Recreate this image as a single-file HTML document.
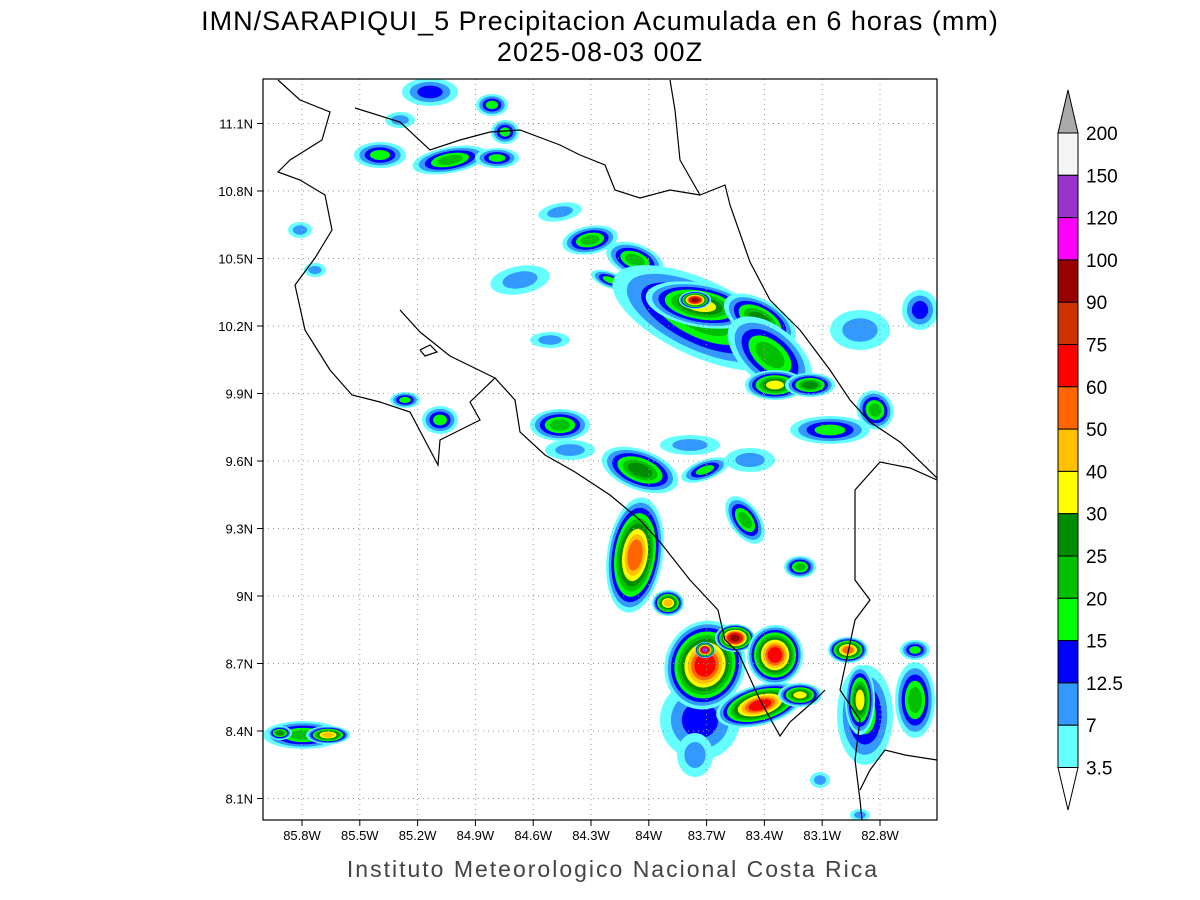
<!DOCTYPE html>
<html><head><meta charset="utf-8"><style>
html,body{margin:0;padding:0;background:#fff;}
svg{display:block;font-family:"Liberation Sans",sans-serif;}
</style></head><body>
<svg id="s" width="1200" height="900" xmlns="http://www.w3.org/2000/svg">
<text x="600" y="30" font-size="27" text-anchor="middle" letter-spacing="1">IMN/SARAPIQUI_5 Precipitacion Acumulada en 6 horas (mm)</text>
<text x="600" y="61" font-size="27" text-anchor="middle" letter-spacing="1">2025-08-03 00Z</text>
<defs><clipPath id="c"><rect x="263" y="79" width="674" height="741"/></clipPath></defs>
<g id="blobs" clip-path="url(#c)"></g>
<g id="grid" stroke="#999" stroke-width="1" stroke-dasharray="1,4"></g>
<g clip-path="url(#c)" fill="none" stroke="#000" stroke-width="1.2">
<polyline points="278,80 300,100 330,112 322,140 290,160 278,172 300,180 325,195 332,230 315,258 295,285 305,330 330,370 352,395 380,402 410,412 438,465 440,440 460,430 480,420 470,402 495,378 515,400 520,432 545,455 575,472 610,495 640,520 660,542 690,580 718,610 725,640 738,652 760,700 780,736 790,722 815,700 825,690"/>
<polyline points="400,310 420,332 450,356 495,378"/>
<polyline points="420,350 430,345 437,352 425,356 420,350"/>
<polyline points="355,108 400,122 430,150 460,140 490,132 520,130 560,145 580,155 605,165 615,190 640,198 670,190 700,195"/>
<polyline points="670,80 675,110 680,160 700,195 725,185 730,205 750,262 770,300 800,330 830,370 850,400 870,422 900,442 937,478"/>
<polyline points="937,480 910,468 880,462 855,490 855,580 870,600 855,620 840,690 860,720 855,760 860,800 862,820"/>
<polyline points="937,760 905,755 885,750 870,770 860,790"/>
</g>
<rect x="263" y="79" width="674" height="741" fill="none" stroke="#000" stroke-width="1.2"/>
<g id="ticks" font-size="13"></g>
<g id="cb"></g>
<text x="613" y="877" font-size="23" text-anchor="middle" fill="#444" letter-spacing="2">Instituto Meteorologico Nacional Costa Rica</text>
</svg>
<script>
var NS="http://www.w3.org/2000/svg";
function el(p,t,a,txt){var e=document.createElementNS(NS,t);for(var k in a)e.setAttribute(k,a[k]);if(txt)e.textContent=txt;document.getElementById(p).appendChild(e);return e;}
var cols=["#66ffff","#3399ff","#0000ff","#00ff00","#00c000","#008c00","#ffff00","#ffc000","#ff6600","#ff0000","#cc3300","#990000","#ff00ff","#9933cc"];
function blob(cx,cy,rx,ry,a,n){for(var i=0;i<n;i++){var f=1-i*0.82/n;el("blobs","ellipse",{cx:cx,cy:cy,rx:rx*f,ry:ry*f,fill:cols[i],transform:"rotate("+a+" "+cx+" "+cy+")"});}}
var B=[
[380,155,26,13,0,4],[450,160,38,13,-10,5],[497,158,22,10,0,4],[492,105,16,11,0,4],[430,92,28,14,0,3],[505,132,14,12,0,4],[400,120,15,8,0,2],
[300,230,12,8,0,2],[315,270,11,7,0,2],
[560,212,22,9,-10,2],[590,240,28,14,-10,5],[635,260,30,16,20,5],[520,280,30,14,-10,2],[610,280,20,8,20,4],
[700,318,95,38,25,5],[700,305,55,22,10,7],[695,300,16,9,0,12],[760,320,40,20,30,6],[770,355,50,28,40,5],[775,385,30,15,0,7],[810,385,25,12,0,6],[860,330,30,20,0,2],[920,310,18,20,0,3],
[830,430,40,14,0,4],[875,410,18,20,-30,5],[550,340,20,8,0,2],
[560,425,30,16,0,5],[570,450,25,10,0,2],[640,470,40,20,20,6],[690,445,30,10,0,2],[705,470,25,10,-20,4],[750,460,25,12,0,2],
[635,555,28,58,8,9],[668,603,16,13,0,8],[745,520,15,27,-35,5],[800,567,16,11,0,5],
[700,720,40,40,0,3],[705,665,40,45,20,10],[705,650,10,8,0,14],[735,638,20,14,0,12],[775,655,28,30,0,10],[760,705,45,20,-15,10],[800,695,22,12,0,7],
[695,755,18,22,0,2],[865,715,28,50,0,4],[860,700,15,35,0,7],[915,700,20,38,0,5],[848,650,20,13,0,9],[915,650,15,10,0,4],
[303,735,40,14,0,5],[328,735,22,9,0,8],[280,733,12,7,0,6],
[820,780,10,8,0,2],[860,815,10,6,0,2],[440,420,18,14,0,4],[405,400,15,8,0,4]];
B.forEach(function(b){blob.apply(null,b);});
var lons=["85.8W","85.5W","85.2W","84.9W","84.6W","84.3W","84W","83.7W","83.4W","83.1W","82.8W"];
for(var i=0;i<11;i++){var x=302+i*57.8;el("grid","line",{x1:x,y1:79,x2:x,y2:820});el("ticks","line",{x1:x,y1:820,x2:x,y2:826,stroke:"#000"});el("ticks","text",{x:x,y:840,"text-anchor":"middle"},lons[i]);}
var lats=["11.1N","10.8N","10.5N","10.2N","9.9N","9.6N","9.3N","9N","8.7N","8.4N","8.1N"];
for(var i=0;i<11;i++){var y=123.5+i*67.5;el("grid","line",{x1:263,y1:y,x2:937,y2:y});el("ticks","line",{x1:257,y1:y,x2:263,y2:y,stroke:"#000"});el("ticks","text",{x:253,y:y+5,"text-anchor":"end"},lats[i]);}
var cb=["#f5f5f5","#9933cc","#ff00ff","#990000","#cc3300","#ff0000","#ff6600","#ffc000","#ffff00","#008c00","#00c000","#00ff00","#0000ff","#3399ff","#66ffff"];
var labs=["200","150","120","100","90","75","60","50","40","30","25","20","15","12.5","7","3.5"];
var h=42.3,t0=133;
el("cb","polygon",{points:"1058,"+t0+" 1078,"+t0+" 1068,90",fill:"#aaa",stroke:"#000"});
for(var i=0;i<15;i++)el("cb","rect",{x:1058,y:t0+i*h,width:20,height:h,fill:cb[i],stroke:"#000"});
var bot=t0+15*h;
el("cb","polygon",{points:"1058,"+bot+" 1078,"+bot+" 1068,810",fill:"#fff",stroke:"#000"});
for(var i=0;i<16;i++)el("cb","text",{x:1086,y:t0+i*h+7,"font-size":"19"},labs[i]);
</script>
</body></html>
